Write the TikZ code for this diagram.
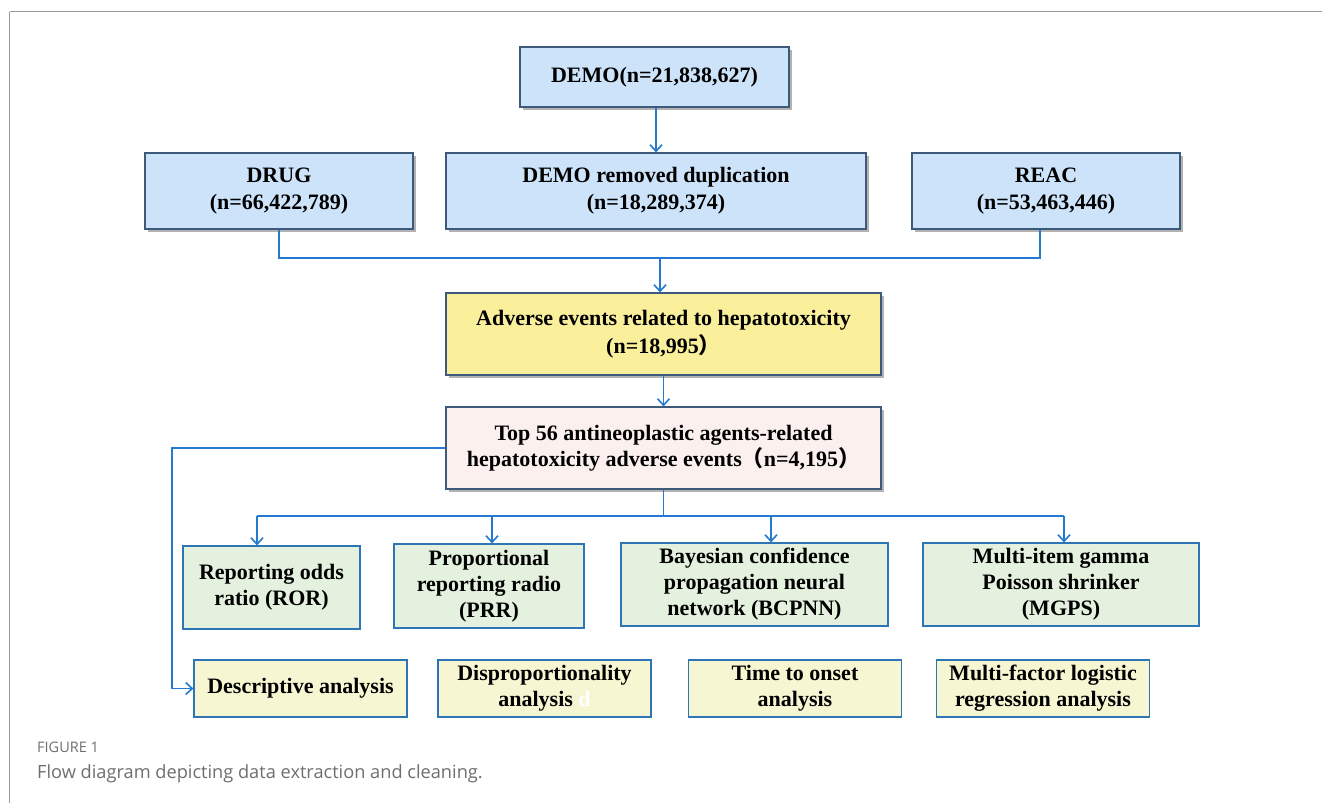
\documentclass[tikz,border=0pt]{standalone}
\usepackage{fontspec}
\setmainfont{Liberation Serif}
\newfontfamily\capfont{Open Sans}
\newfontfamily\cjk{Noto Sans CJK SC}
\usetikzlibrary{arrows.meta,shadows,calc}
\definecolor{topfill}{HTML}{CDE3FA}
\definecolor{slate}{HTML}{3E5A7A}
\definecolor{yelfill}{HTML}{FAF09C}
\definecolor{pinkfill}{HTML}{FBF0EE}
\definecolor{greenfill}{HTML}{E3F1DE}
\definecolor{botfill}{HTML}{F6F6D2}
\definecolor{bluedge}{HTML}{2E75B6}
\definecolor{arrblue}{HTML}{2479D0}
\definecolor{framegray}{HTML}{9A9A9A}
\definecolor{capgray}{HTML}{6E6E6E}
\begin{document}
\begin{tikzpicture}[x=1pt,y=-1pt,
  base/.style={rectangle, align=center, inner sep=2pt, font=\bfseries\fontsize{22}{26}\selectfont},
  shadowbox/.style={base, draw=slate, line width=1.2pt,
    drop shadow={shadow xshift=3pt, shadow yshift=-3pt, fill=black, opacity=0.3}},
  topbox/.style={shadowbox, fill=topfill, font=\bfseries\fontsize{22}{27}\selectfont},
  yelbox/.style={shadowbox, fill=yelfill, font=\bfseries\fontsize{22}{27.5}\selectfont},
  pinkbox/.style={shadowbox, fill=pinkfill},
  methbox/.style={base, draw=bluedge, line width=1.2pt, fill=greenfill},
  anbox/.style={base, draw=bluedge, line width=1.2pt, fill=botfill, minimum width=213pt, minimum height=57pt},
  conn/.style={draw=arrblue, line width=1.5pt},
  arr/.style={conn, -{Straight Barb[length=6.5pt,width=12pt,line width=1.6pt]}},
  captxt/.style={anchor=base west, inner sep=0pt, text=capgray}
]
\useasboundingbox (0,0) rectangle (1322,803);
% frame
\draw[framegray, line width=1.3pt] (9.5,11.5) -- (1322,11.5);
\draw[framegray, line width=1pt] (9.5,11.5) -- (9.5,803);

% top
\node[topbox, minimum width=269pt, minimum height=60pt] (demo) at (654.5,77) {DEMO(n=21,838,627)};
\node[topbox, minimum width=268pt, minimum height=76pt] (drug) at (279,191) {DRUG\\(n=66,422,789)};
\node[topbox, minimum width=420pt, minimum height=76pt] (demord) at (656,191) {DEMO removed duplication\\(n=18,289,374)};
\node[topbox, minimum width=268pt, minimum height=76pt] (reac) at (1046,191) {REAC\\(n=53,463,446)};

\node[yelbox, minimum width=435pt, minimum height=82pt] (adv) at (663.5,334) {Adverse events related to hepatotoxicity\\(n=18,995{\cjk ）}};
\node[pinkbox, minimum width=435pt, minimum height=82pt] (top) at (663.5,448) {Top 56 antineoplastic agents-related\\hepatotoxicity adverse events{\cjk （}n=4,195{\cjk ）}};

% methods
\node[methbox, minimum width=177pt, minimum height=83pt] (ror) at (271.5,587.5) {Reporting odds\\ratio (ROR)};
\node[methbox, minimum width=190pt, minimum height=84pt] (prr) at (489,586) {Proportional\\reporting radio\\(PRR)};
\node[methbox, minimum width=267pt, minimum height=83pt] (bcpnn) at (754.5,584.5) {Bayesian confidence\\propagation neural\\network (BCPNN)};
\node[methbox, minimum width=276pt, minimum height=83pt] (mgps) at (1061,584.5) {Multi-item gamma\\Poisson shrinker\\(MGPS)};

% analyses
\node[anbox] (desc) at (300.5,688.5) {Descriptive analysis};
\node[anbox] (disp) at (544.5,688.5) {Disproportionality\\analysis \textcolor{white}{d}};
\node[anbox] (tto) at (795,688.5) {Time to onset\\analysis};
\node[anbox] (mflr) at (1043,688.5) {Multi-factor logistic\\regression analysis};

% connectors
\draw[arr] (demo.south -| 656,0) -- (demord.north -| 656,0);
\coordinate (jdrug) at (279,258);
\coordinate (jreac) at (1040,258);
\coordinate (jmid) at (660,258);
\draw[conn] (drug.south) -- (jdrug) -- (jreac) -- (jreac |- reac.south);
\draw[arr] (jmid) -- (jmid |- adv.north);
\draw[arr] (adv.south) -- (top.north);

\coordinate (hl) at (257,516);
\coordinate (hr) at (1064,516);
\coordinate (hp) at (492,516);
\coordinate (hb) at (771,516);
\draw[conn] (top.south) -- (top.south |- hl);
\draw[conn] (hl) -- (hr);
\draw[arr] (hl) -- (hl |- ror.north);
\draw[arr] (hp) -- (hp |- prr.north);
\draw[arr] (hb) -- (hb |- bcpnn.north);
\draw[arr] (hr) -- (hr |- mgps.north);

\coordinate (lc) at (172,448);
\draw[arr] (top.west) -- (lc) |- (desc.west);

% caption
\node[captxt, font=\capfont\fontsize{14.5}{16}\selectfont] (fig) at (37,752) {FIGURE 1};
\node[captxt, font=\capfont\fontsize{18.2}{20}\selectfont] (cap) at (37,778) {Flow diagram depicting data extraction and cleaning.};
\end{tikzpicture}
\end{document}
